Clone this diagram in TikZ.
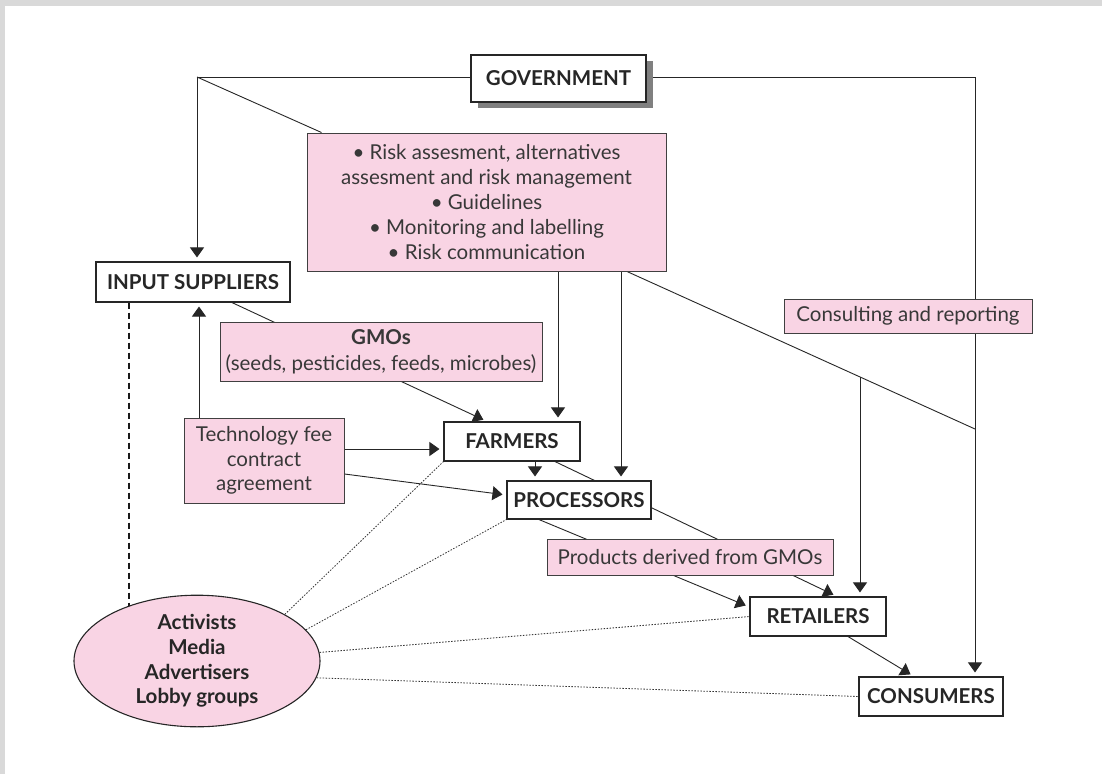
\documentclass[tikz,border=0pt]{standalone}
\usepackage{fontspec}
\setmainfont{Lato}
\usetikzlibrary{arrows.meta,shapes.geometric,shadows,calc}
\definecolor{pinkfill}{RGB}{249,212,228}
\definecolor{framegray}{RGB}{217,217,217}
\pgfdeclarelayer{back}
\pgfdeclarelayer{lines}
\pgfsetlayers{back,lines,main}
\begin{document}
\begin{tikzpicture}[x=1pt,y=-1pt,
  box/.style={draw=black!85,line width=1.1pt,fill=white,inner sep=0pt,
    font=\fontsize{20.5}{24}\selectfont\bfseries,text=black!85},
  pinkbox/.style={draw=black!75,line width=1pt,fill=pinkfill,inner sep=0pt,align=center,
    font=\fontsize{20.5}{25}\selectfont,text=black!78},
  conn/.style={line width=0.9pt,draw=black!85},
  arr/.style={conn,-{Triangle[width=14pt,length=10pt]},shorten >=4pt},
  dotline/.style={line width=0.8pt,dash pattern=on 1.5pt off 1.5pt,draw=black!80},
  thickdash/.style={line width=2.6pt,dash pattern=on 6pt off 4pt,draw=black!90},
]
\useasboundingbox (0,0) rectangle (1102,774);
\begin{pgfonlayer}{back}
  \fill[framegray] (0,0) rectangle (1102,774);
  \fill[white] (5,6) rectangle (1102,774);
\end{pgfonlayer}

% nodes
\node[box,minimum width=175pt,minimum height=47pt,
  drop shadow={shadow xshift=7pt,shadow yshift=-6pt,fill=black!50,opacity=1}] (gov) at (558.5,78.5) {GOVERNMENT};
\node[pinkbox,minimum width=359pt,minimum height=138pt] (risk) at (486.5,202)
  {\textbullet\ Risk assesment, alternatives\\assesment and risk management\\\textbullet\ Guidelines\\\textbullet\ Monitoring and labelling\\\textbullet\ Risk communication};
\node[pinkbox,minimum width=248pt,minimum height=34pt] (consult) at (908,316) {Consulting and reporting};
\node[box,minimum width=194pt,minimum height=40pt] (is) at (193,282) {INPUT SUPPLIERS};
\node[pinkbox,minimum width=322pt,minimum height=59pt,font=\fontsize{20.5}{26}\selectfont] (gmo) at (381,351.5)
  {\textbf{GMOs}\\(seeds, pesticides, feeds, microbes)};
\node[box,minimum width=136pt,minimum height=39pt] (farm) at (512,441.5) {FARMERS};
\node[pinkbox,minimum width=160pt,minimum height=85pt,font=\fontsize{20.5}{24.5}\selectfont] (tech) at (264,460.5)
  {Technology fee\\contract\\agreement};
\node[box,minimum width=144pt,minimum height=38pt] (proc) at (579,500) {PROCESSORS};
\node[pinkbox,minimum width=286pt,minimum height=36pt] (prod) at (690,557) {Products derived from GMOs};
\node[box,minimum width=136pt,minimum height=39pt] (ret) at (818,616.5) {RETAILERS};
\node[box,minimum width=144pt,minimum height=39pt] (cons) at (931,696.5) {CONSUMERS};
\node[ellipse,draw=black!85,line width=1.1pt,fill=pinkfill,inner sep=0pt,minimum width=246pt,minimum height=128pt,
  align=center,font=\fontsize{20.5}{24.7}\selectfont\bfseries,text=black!85] (ell) at (197,661)
  {Activists\\Media\\Advertisers\\Lobby groups};

\coordinate (cornerL) at (197,77);
\coordinate (cornerR) at (975,77);
\coordinate (diagS) at ([xshift=140.5pt]risk.south);
\coordinate (diagE) at (975,429);
\coordinate (branch) at ($(diagS)!0.6695!(diagE)$);
\coordinate (t1) at ([yshift=11.5pt]tech.east);
\coordinate (dtop) at ([xshift=-64pt]is.south);

\begin{pgfonlayer}{lines}
  \draw[conn] (cornerL) -- (cornerR);
  \draw[arr] (cornerL) -- (is.north -| cornerL);
  \draw[conn] (cornerL) -- ([xshift=15pt]risk.north west);
  \draw[arr] (cornerR) -- (cons.north -| cornerR);
  \draw[arr] ([xshift=71.5pt]risk.south) -- ([xshift=46pt]farm.north);
  \draw[arr] ([xshift=134.5pt]risk.south) -- ([xshift=42pt]proc.north);
  \draw[conn] (diagS) -- (diagE);
  \draw[arr] (branch) -- (ret.north -| branch);
  \draw[arr] ([xshift=-65pt]tech.north) -- ([xshift=6pt]is.south);
  \draw[thickdash] (dtop) -- (ell.142 -| dtop);
  \draw[arr] ([xshift=39pt]is.south) -- ([xshift=-25pt]farm.north);
  \draw[arr] (t1) -- (t1 -| farm.west);
  \draw[arr] ([yshift=-13.5pt]tech.east) -- ([yshift=5pt]proc.west);
  \draw[arr] ([xshift=23pt]farm.south) -- ([xshift=-44pt]proc.north);
  \draw[arr] ([xshift=43pt]farm.south) -- ([xshift=19pt]ret.north);
  \draw[arr] ([xshift=-40pt]proc.south) -- ([yshift=9.5pt]ret.west);
  \draw[arr] ([xshift=30pt]ret.south) -- ([xshift=-17pt]cons.north);
  \draw[dotline] (ell.28.6) -- (farm.south west);
  \draw[dotline] (ell.16.8) -- (proc.south west);
  \draw[dotline] (ell.4.6) -- (ret.west);
  \draw[dotline] (ell.-8.1) -- (cons.west);
\end{pgfonlayer}
\end{tikzpicture}
\end{document}
